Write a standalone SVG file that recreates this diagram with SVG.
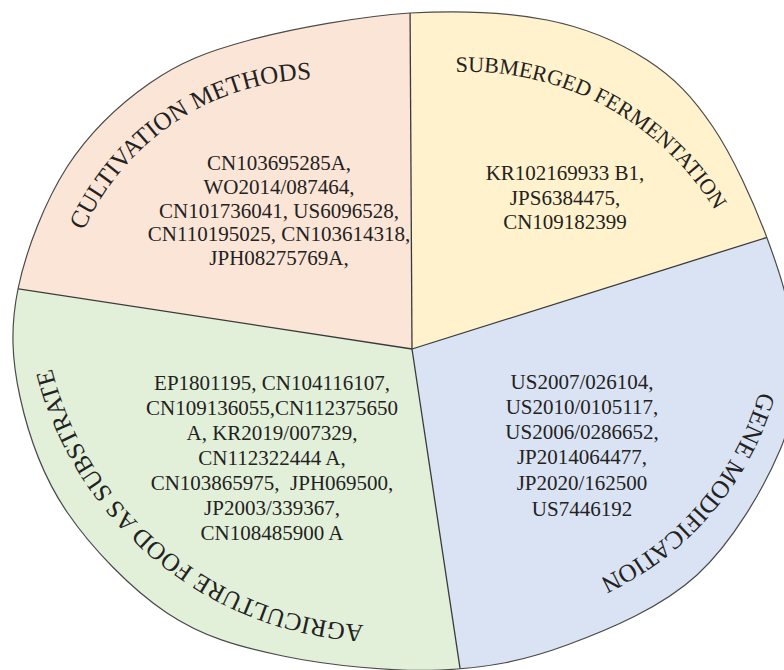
<svg xmlns="http://www.w3.org/2000/svg" width="784" height="670" viewBox="0 0 784 670">
<style>
.body{font-family:"Liberation Serif","Times New Roman",serif;font-size:21px;fill:#222;text-anchor:middle}
.title{font-family:"Liberation Serif","Times New Roman",serif;font-size:25px;fill:#222}
.div{stroke:#3a3a3a;stroke-width:1.3;fill:none}
.edge{stroke:#4a4a4a;stroke-width:1.2;fill:none}
</style>
<defs>
<path id="outline" d="M 410 13 C 459.5 10.5 507.5 12.17 547 20 C 586.5 27.83 619.33 42.17 647 60 C 674.67 77.83 693 97.33 713 127 C 733 156.67 753.5 201.67 767 238 C 780.5 274.33 791.83 309.67 794 345 C 796.17 380.33 796.17 411.67 780 450 C 763.83 488.33 732.5 542.5 697 575 C 661.5 607.5 609.83 629.17 567 645 C 524.17 660.83 487.33 668.17 440 670 C 392.67 671.83 328.5 665.5 283 656 C 237.5 646.5 203 637 167 613 C 131 589 91.5 548 67 512 C 42.5 476 28.17 434.17 20 397 C 11.83 359.83 10.17 327.33 18 289 C 25.83 250.67 45 201.33 67 167 C 89.33 132.67 119.5 104.17 150 83 C 180.5 61.83 206.67 51.67 250 40 C 293.33 28.33 360.5 16.33 410 13 Z"/>
<clipPath id="clip"><use href="#outline"/></clipPath>
<path id="arcCult" d="M 83.6 230.7 A 257 257 0 0 1 446.5 113.4"/>
<path id="arcSub" d="M 455.8 72 A 290 290 0 0 1 754.5 319.1"/>
<path id="arcGene" d="M 759.3 391.6 A 298 298 0 0 1 473 607"/>
<path id="arcAgri" d="M 363.6 625 A 340.5 340.5 0 0 1 46.7 225.9"/>
</defs>
<rect width="784" height="670" fill="#ffffff"/>
<g id="cultivation">
<polygon points="412,349 410,0 0,0 0,286" fill="#FBE5D6" clip-path="url(#clip)"/>
<text class="title"><textPath href="#arcCult">CULTIVATION METHODS</textPath></text>
<text class="body"><tspan x="279" y="170">CN103695285A,</tspan><tspan x="279" y="194">WO2014/087464,</tspan><tspan x="279" y="218">CN101736041, US6096528,</tspan><tspan x="279" y="241">CN110195025, CN103614318,</tspan><tspan x="279" y="265">JPH08275769A,</tspan></text>
</g>
<g id="submerged">
<polygon points="412,349 410,0 800,0 800,227" fill="#FFF2CC" clip-path="url(#clip)"/>
<text class="title" style="font-size:22px"><textPath href="#arcSub">SUBMERGED FERMENTATION</textPath></text>
<text class="body"><tspan x="565" y="180">KR102169933 B1,</tspan><tspan x="565" y="205">JPS6384475,</tspan><tspan x="565" y="229">CN109182399</tspan></text>
</g>
<g id="gene">
<polygon points="412,349 800,227 800,690 463.3,690" fill="#DAE3F3" clip-path="url(#clip)"/>
<text class="title"><textPath href="#arcGene">GENE MODIFICATION</textPath></text>
<text class="body"><tspan x="582" y="389">US2007/026104,</tspan><tspan x="582" y="414">US2010/0105117,</tspan><tspan x="582" y="439">US2006/0286652,</tspan><tspan x="582" y="464">JP2014064477,</tspan><tspan x="582" y="490">JP2020/162500</tspan><tspan x="582" y="516">US7446192</tspan></text>
</g>
<g id="agriculture">
<polygon points="412,349 463.3,690 0,690 0,286" fill="#E2F0D9" clip-path="url(#clip)"/>
<text class="title"><textPath href="#arcAgri">AGRICULTURE FOOD AS SUBSTRATE</textPath></text>
<text class="body" xml:space="preserve"><tspan x="272" y="390">EP1801195, CN104116107,</tspan><tspan x="272" y="415">CN109136055,CN112375650</tspan><tspan x="272" y="440">A, KR2019/007329,</tspan><tspan x="272" y="465">CN112322444 A,</tspan><tspan x="272" y="490">CN103865975,  JPH069500,</tspan><tspan x="272" y="515">JP2003/339367,</tspan><tspan x="272" y="540">CN108485900 A</tspan></text>
</g>
<g id="connectors" clip-path="url(#clip)">
<line class="div" x1="412" y1="349" x2="410" y2="0"/>
<line class="div" x1="412" y1="349" x2="0" y2="286"/>
<line class="div" x1="412" y1="349" x2="800" y2="227"/>
<line class="div" x1="412" y1="349" x2="463.3" y2="690"/>
</g>
<use href="#outline" class="edge"/>
</svg>
